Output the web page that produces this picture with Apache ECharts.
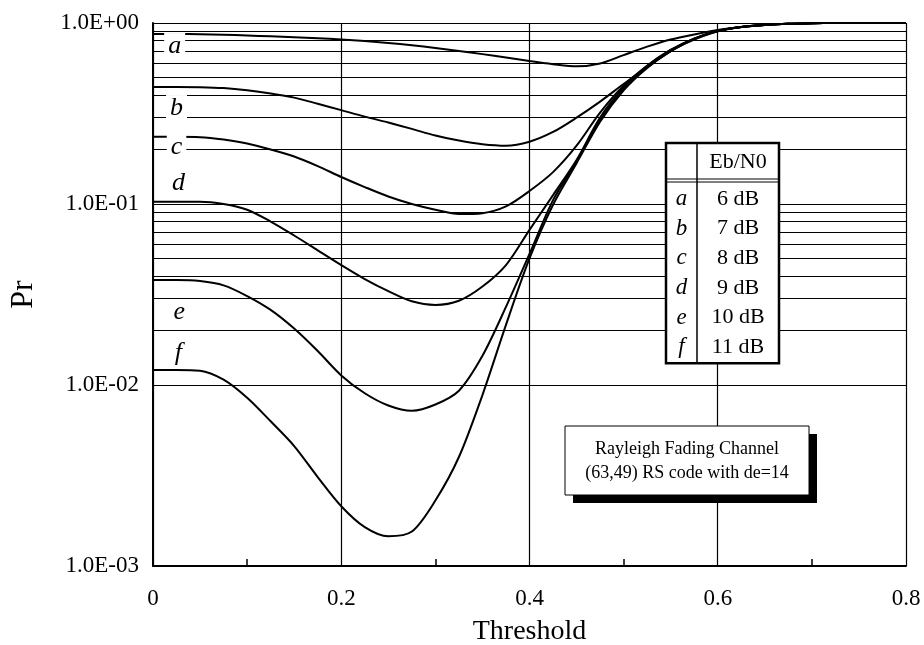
<!DOCTYPE html>
<html>
<head>
<meta charset="utf-8">
<script src="https://cdn.jsdelivr.net/npm/echarts@6/dist/echarts.min.js"></script>
<style>
    html, body { margin: 0; padding: 0; background: #fff; }
    #chart { width: 924px; height: 645px; }
</style>
</head>
<body>
<div id="chart"></div>
<script>
    // threshold values (x)
    const thresholds = [0, 0.025, 0.05, 0.075, 0.1, 0.125, 0.15, 0.175, 0.2, 0.225, 0.25, 0.275, 0.3, 0.325, 0.35, 0.375,
        0.4, 0.425, 0.45, 0.475, 0.5, 0.525, 0.55, 0.575, 0.6, 0.625, 0.65, 0.675, 0.7, 0.725, 0.75, 0.775, 0.8];

    // Pr for each Eb/N0
    const prA = [0.87, 0.87, 0.868, 0.861, 0.853, 0.844, 0.834, 0.823, 0.811, 0.795, 0.776, 0.753, 0.728, 0.701, 0.673, 0.645,
        0.616, 0.592, 0.576, 0.598, 0.665, 0.74, 0.81, 0.865, 0.915, 0.95, 0.975, 0.99, 0.997, 1, 1, 1, 1];
    const prB = [0.443, 0.443, 0.442, 0.437, 0.425, 0.408, 0.387, 0.358, 0.33, 0.304, 0.282, 0.26, 0.239, 0.224, 0.214, 0.21,
        0.221, 0.25, 0.3, 0.368, 0.46, 0.57, 0.7, 0.82, 0.905, 0.95, 0.975, 0.99, 0.997, 1, 1, 1, 1];
    const prC = [0.235, 0.235, 0.234, 0.227, 0.216, 0.2, 0.183, 0.162, 0.141, 0.124, 0.11, 0.1, 0.093, 0.088, 0.089, 0.097,
        0.118, 0.15, 0.21, 0.32, 0.45, 0.58, 0.71, 0.82, 0.905, 0.95, 0.975, 0.99, 0.997, 1, 1, 1, 1];
    const prD = [0.103, 0.103, 0.103, 0.1, 0.093, 0.08, 0.067, 0.0555, 0.046, 0.0385, 0.033, 0.029, 0.0277, 0.0292, 0.035, 0.046,
        0.072, 0.112, 0.175, 0.3, 0.44, 0.58, 0.71, 0.82, 0.905, 0.95, 0.975, 0.99, 0.997, 1, 1, 1, 1];
    const prE = [0.038, 0.038, 0.0375, 0.0355, 0.031, 0.026, 0.0205, 0.0154, 0.0113, 0.009, 0.0077, 0.0072, 0.0078, 0.0093, 0.0145, 0.027,
        0.053, 0.105, 0.172, 0.29, 0.43, 0.57, 0.7, 0.815, 0.9, 0.95, 0.975, 0.99, 0.997, 1, 1, 1, 1];
    const prF = [0.0121, 0.0121, 0.012, 0.0107, 0.0085, 0.0063, 0.0046, 0.0031, 0.00214, 0.00164, 0.00146, 0.00155, 0.0023, 0.004, 0.0088, 0.0215,
        0.05, 0.099, 0.168, 0.285, 0.425, 0.565, 0.7, 0.81, 0.9, 0.95, 0.975, 0.99, 0.997, 1, 1, 1, 1];

    const curveLetters = ['a', 'b', 'c', 'd', 'e', 'f'];
    const ebN0 = ['6 dB', '7 dB', '8 dB', '9 dB', '10 dB', '11 dB'];
    // where the letters sit next to each curve [threshold, Pr]
    const letterAt = [[0.023, 0.746], [0.025, 0.339], [0.025, 0.206], [0.027, 0.131], [0.028, 0.0253], [0.027, 0.015]];

    const xTickLabels = ['0', '0.2', '0.4', '0.6', '0.8'];
    const yTickLabels = ['1.0E-03', '1.0E-02', '1.0E-01', '1.0E+00'];

    const serif = '"Liberation Serif", "Times New Roman", serif';
    const allPr = [prA, prB, prC, prD, prE, prF];

    // 2..9 lines inside every decade
    const minorGrid = [];
    [0.001, 0.01, 0.1].forEach(function (d) {
        for (let k = 2; k <= 9; k++) minorGrid.push(+(d * k).toPrecision(3));
    });

    const myChart = echarts.init(document.getElementById('chart'));

    const series = allPr.map(function (vals, i) {
        return {
            name: ebN0[i],
            type: 'line',
            smooth: 0.3,
            symbol: 'none',
            lineStyle: {color: '#000', width: 2},
            data: thresholds.map(function (t, j) { return [t, vals[j]]; }),
            z: 5
        };
    });

    series.push({
        name: 'minor grid',
        type: 'line',
        data: [],
        silent: true,
        markLine: {
            silent: true,
            symbol: 'none',
            label: {show: false},
            lineStyle: {color: '#000', width: 1, type: 'solid'},
            data: minorGrid.map(function (v) { return {yAxis: v}; })
        },
        z: 1
    });

    series.push({
        name: 'letters',
        type: 'scatter',
        symbolSize: 0,
        silent: true,
        itemStyle: {opacity: 1},
        data: letterAt.map(function (p, i) { return [p[0], p[1], curveLetters[i]]; }),
        label: {
            show: true,
            position: 'inside',
            formatter: function (p) { return p.data[2]; },
            fontFamily: serif,
            fontStyle: 'italic',
            fontSize: 26,
            color: '#000',
            opacity: 1,
            backgroundColor: '#fff',
            padding: [0, 4]
        },
        z: 6
    });

    // legend table drawn as graphics
    const tbl = {x: 666, y: 143, w: 113, colX: 697, headH: 36, rowH: 29.7};
    const tblH = tbl.headH + 3 + tbl.rowH * ebN0.length + 3;
    const graphics = [
        {type: 'rect', shape: {x: tbl.x, y: tbl.y, width: tbl.w, height: tblH},
            style: {fill: '#fff', stroke: '#000', lineWidth: 2.5}, z: 100},
        {type: 'line', shape: {x1: tbl.colX, y1: tbl.y, x2: tbl.colX, y2: tbl.y + tblH},
            style: {stroke: '#000', lineWidth: 1.5}, z: 101},
        {type: 'line', shape: {x1: tbl.x, y1: tbl.y + tbl.headH, x2: tbl.x + tbl.w, y2: tbl.y + tbl.headH},
            style: {stroke: '#000', lineWidth: 1.2}, z: 101},
        {type: 'line', shape: {x1: tbl.x, y1: tbl.y + tbl.headH + 3, x2: tbl.x + tbl.w, y2: tbl.y + tbl.headH + 3},
            style: {stroke: '#000', lineWidth: 1.2}, z: 101},
        {type: 'text', x: (tbl.colX + tbl.x + tbl.w) / 2, y: tbl.y + tbl.headH / 2 + 1,
            style: {text: 'Eb/N0', fontFamily: serif, fontSize: 22, fill: '#000', align: 'center', verticalAlign: 'middle'}, z: 102}
    ];
    ebN0.forEach(function (lab, i) {
        const cy = tbl.y + tbl.headH + 3 + tbl.rowH * (i + 0.5) + 2;
        graphics.push({type: 'text', x: (tbl.x + tbl.colX) / 2, y: cy,
            style: {text: curveLetters[i], fontFamily: serif, fontStyle: 'italic', fontSize: 23, fill: '#000', align: 'center', verticalAlign: 'middle'}, z: 102});
        graphics.push({type: 'text', x: (tbl.colX + tbl.x + tbl.w) / 2, y: cy,
            style: {text: lab, fontFamily: serif, fontSize: 22, fill: '#000', align: 'center', verticalAlign: 'middle'}, z: 102});
    });

    // note box with drop shadow
    const note = {x: 565, y: 426, w: 244, h: 69, off: 8};
    graphics.push(
        {type: 'rect', shape: {x: note.x + note.off, y: note.y + note.off, width: note.w, height: note.h},
            style: {fill: '#000'}, z: 100},
        {type: 'rect', shape: {x: note.x, y: note.y, width: note.w, height: note.h},
            style: {fill: '#fff', stroke: '#000', lineWidth: 1}, z: 101},
        {type: 'text', x: note.x + note.w / 2, y: note.y + 23,
            style: {text: 'Rayleigh Fading Channel', fontFamily: serif, fontSize: 18, fill: '#000', align: 'center', verticalAlign: 'middle'}, z: 102},
        {type: 'text', x: note.x + note.w / 2, y: note.y + 47,
            style: {text: '(63,49) RS code with de=14', fontFamily: serif, fontSize: 18, fill: '#000', align: 'center', verticalAlign: 'middle'}, z: 102}
    );

    const option = {
        backgroundColor: '#fff',
        animation: false,
        grid: {left: 153, top: 23, right: 18, bottom: 79, outerBoundsMode: 'none', containLabel: false},
        xAxis: {
            type: 'value',
            min: 0,
            max: 0.8,
            interval: 0.2,
            name: 'Threshold',
            nameLocation: 'middle',
            nameGap: 52,
            nameTextStyle: {fontFamily: serif, fontSize: 28, color: '#000'},
            axisLine: {show: true, lineStyle: {color: '#000', width: 2}},
            axisTick: {show: false, inside: true},
            minorTick: {show: true, splitNumber: 2, length: 7, lineStyle: {color: '#000', width: 1.5}},
            splitLine: {show: true, lineStyle: {color: '#000', width: 1.2}},
            axisLabel: {
                margin: 21,
                fontFamily: serif,
                fontSize: 23,
                color: '#000',
                formatter: function (v) { return xTickLabels[Math.round(v / 0.2)]; }
            }
        },
        yAxis: {
            type: 'log',
            logBase: 10,
            min: 0.001,
            max: 1,
            name: 'Pr',
            nameLocation: 'middle',
            nameGap: 113,
            nameTextStyle: {fontFamily: serif, fontSize: 32, color: '#000'},
            axisLine: {show: true, lineStyle: {color: '#000', width: 2}},
            axisTick: {show: false},
            splitLine: {show: true, lineStyle: {color: '#000', width: 1.2}},
            axisLabel: {
                margin: 14,
                fontFamily: serif,
                fontSize: 23,
                color: '#000',
                formatter: function (v) { return yTickLabels[Math.round(Math.log10(v)) + 3]; }
            }
        },
        series: series,
        graphic: graphics
    };
    myChart.setOption(option);
</script>
</body>
</html>
